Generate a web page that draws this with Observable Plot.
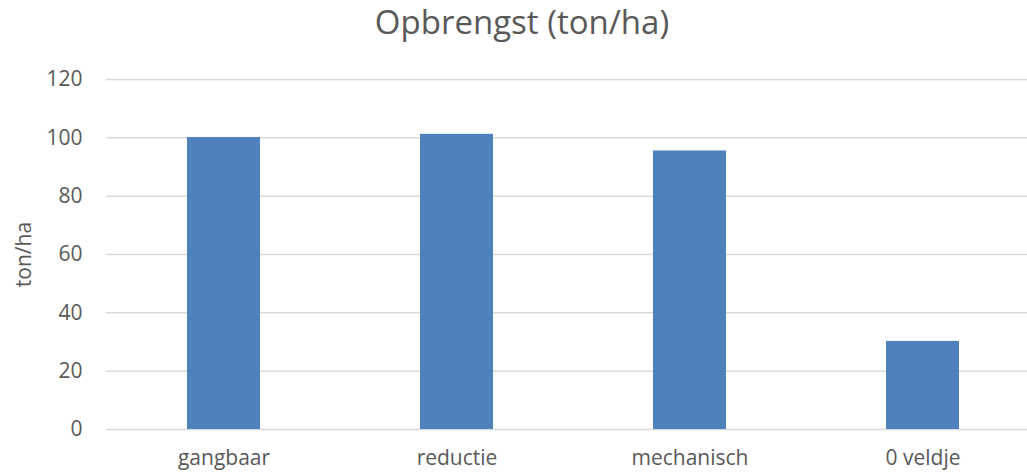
<!DOCTYPE html>
<html>
<head>
<meta charset="utf-8">
<script src="https://cdn.jsdelivr.net/npm/d3@7"></script>
<script src="https://cdn.jsdelivr.net/npm/@observablehq/plot@0.6"></script>
<style>
  html, body { margin: 0; padding: 0; background: #fff; }
  #wrap { position: relative; width: 1027px; height: 472px; overflow: hidden; font-family: "Open Sans", sans-serif; }
  #title { position: absolute; top: 2px; left: 0; width: 1044px; text-align: center; font-size: 33px; color: #595959; line-height: 40px; white-space: nowrap; }
  #chart { position: absolute; top: 0; left: 0; }
</style>
</head>
<body>
<div id="wrap">
  <div id="chart"></div>
  <div id="title">Opbrengst (ton/ha)</div>
</div>
<script>
const categories = ["gangbaar", "reductie", "mechanisch", "0 veldje"];
const values = [100.1, 101.2, 95.5, 30.2];
const yTicks = [0, 20, 40, 60, 80, 100, 120];

const data = categories.map((c, i) => ({category: c, value: values[i]}));

const chart = Plot.plot({
  width: 1027,
  height: 472,
  marginTop: 79,
  marginBottom: 43,
  marginLeft: 106,
  marginRight: 0,
  style: {fontFamily: "Open Sans, sans-serif", fontSize: "21px", color: "#595959", background: "#fff"},
  x: {domain: categories, range: [106, 1040], paddingInner: 0.687, paddingOuter: 0.3435, label: null},
  y: {domain: [0, 120], ticks: yTicks, label: "ton/ha"},
  marks: [
    Plot.ruleY(yTicks, {stroke: "#d9d9d9", strokeWidth: 1.5}),
    Plot.barY(data, {x: "category", y: "value", fill: "#4f81bd"}),
    Plot.axisY({ticks: yTicks, tickSize: 0, tickPadding: 24, label: "ton/ha", labelAnchor: "center", labelArrow: "none", labelOffset: 90, fill: "#595959", fontSize: 21}),
    Plot.axisX({tickSize: 0, tickPadding: 21, label: null, fill: "#595959", fontSize: 21})
  ]
});
document.getElementById("chart").appendChild(chart);
</script>
</body>
</html>
